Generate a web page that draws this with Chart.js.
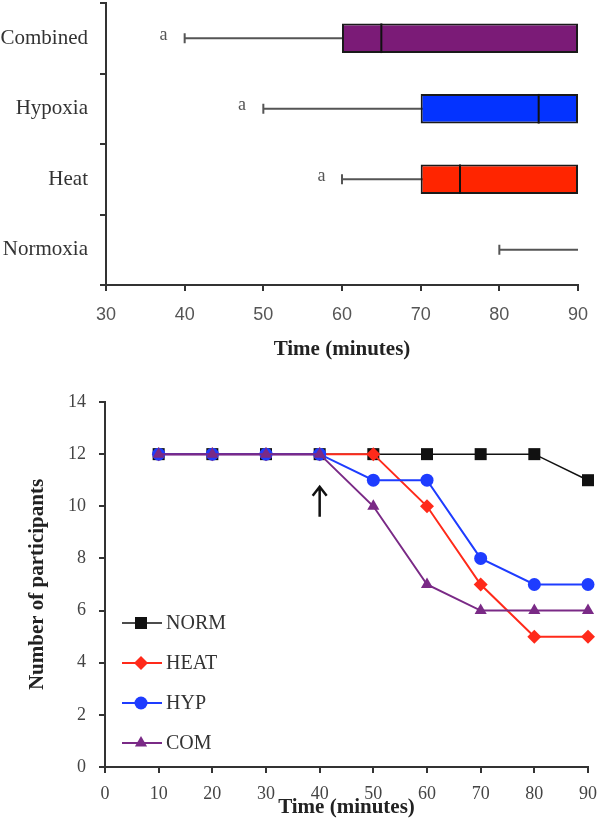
<!DOCTYPE html>
<html>
<head>
<meta charset="utf-8">
<script src="https://cdn.jsdelivr.net/npm/chart.js@4.4.1/dist/chart.umd.min.js"></script>
<style>
  html, body { margin: 0; padding: 0; background: #fff; }
  #wrap { position: relative; width: 600px; height: 820px; }
  #topBox { position: absolute; left: 0; top: 0; width: 600px; height: 380px; }
  #bottomBox { position: absolute; left: 0; top: 380px; width: 600px; height: 440px; }
</style>
</head>
<body>
<div id="wrap">
  <div id="topBox"><canvas id="timeBoxChart" width="600" height="380"></canvas></div>
  <div id="bottomBox"><canvas id="participantsChart" width="600" height="440"></canvas></div>
</div>
<script>
// top panel: time to exhaustion per condition
const conditions = ['Combined', 'Hypoxia', 'Heat', 'Normoxia'];
const whiskerMin = [40, 50, 60, 80];
const whiskerMax = [90, 90, 90, 90];
const lowerQuartile = [60, 70, 70, null];
const upperQuartile = [90, 90, 90, null];
const medians = [65, 85, 75, null];
const sigMarkX = [37.3, 47.3, 57.4, null];
const sigMarkText = ['a', 'a', 'a', ''];
const boxAxisTicks = [30, 40, 50, 60, 70, 80, 90];

// bottom panel: participants still running
const timePoints = [10, 20, 30, 40, 50, 60, 70, 80, 90];
const seriesNames = ['NORM', 'HEAT', 'HYP', 'COM'];
const normCounts = [12, 12, 12, 12, 12, 12, 12, 12, 11];
const heatCounts = [12, 12, 12, 12, 12, 10, 7, 5, 5];
const hypCounts = [12, 12, 12, 12, 11, 11, 8, 7, 7];
const comCounts = [12, 12, 12, 12, 10, 7, 6, 6, 6];
const countTicks = [0, 2, 4, 6, 8, 10, 12, 14];
const lineTimeTicks = [0, 10, 20, 30, 40, 50, 60, 70, 80, 90];
const arrowTime = 40;
const arrowSpan = [9.6, 10.75];

const boxColors = ['#7b1b77', '#0433ff', '#ff2500', '#ffffff'];
const lineColors = ['#111111', '#ff2a1a', '#1e3cff', '#7a2a86'];
const pointStyles = ['rect', 'rectRot', 'circle', 'triangle'];
const pointSizes = [8.5, 7, 6.5, 7];

const serif = "'Liberation Serif', 'Times New Roman', serif";

function axisStyle(extra) {
  return Object.assign({
    grid: { drawOnChartArea: false, drawTicks: true, tickLength: 6, color: '#333', lineWidth: 2 },
    border: { display: true, color: '#333', width: 2 }
  }, extra);
}

const boxWhiskerPlugin = {
  id: 'boxWhisker',
  beforeDatasetsDraw(chart) {
    const { ctx, scales: { x, y } } = chart;
    ctx.save();
    ctx.strokeStyle = '#555';
    ctx.lineWidth = 2;
    ctx.fillStyle = '#555';
    ctx.font = '18px ' + serif;
    ctx.textAlign = 'center';
    ctx.textBaseline = 'middle';
    conditions.forEach((c, i) => {
      const cy = y.getPixelForValue(i);
      const x0 = x.getPixelForValue(whiskerMin[i]);
      const x1 = x.getPixelForValue(whiskerMax[i]);
      ctx.beginPath();
      ctx.moveTo(x0, cy);
      ctx.lineTo(x1, cy);
      ctx.moveTo(x0, cy - 5);
      ctx.lineTo(x0, cy + 5);
      ctx.stroke();
      if (sigMarkX[i] !== null) {
        ctx.fillText(sigMarkText[i], x.getPixelForValue(sigMarkX[i]), cy - 3);
      }
    });
    ctx.restore();
  },
  afterDatasetsDraw(chart) {
    const { ctx, scales: { x } } = chart;
    const meta = chart.getDatasetMeta(0);
    ctx.save();
    ctx.strokeStyle = '#111';
    ctx.lineWidth = 2;
    medians.forEach((m, i) => {
      if (m === null) return;
      const bar = meta.data[i];
      const half = bar.height / 2;
      const mx = x.getPixelForValue(m);
      ctx.beginPath();
      ctx.moveTo(mx, bar.y - half);
      ctx.lineTo(mx, bar.y + half);
      ctx.stroke();
    });
    ctx.restore();
  }
};

function initializeBoxChart() {
  const ctx = document.getElementById('timeBoxChart');
  return new Chart(ctx, {
    type: 'bar',
    data: {
      labels: conditions,
      datasets: [{
        data: conditions.map((c, i) => lowerQuartile[i] === null ? null : [lowerQuartile[i], upperQuartile[i]]),
        backgroundColor: boxColors,
        borderColor: '#1a1a1a',
        borderWidth: 2,
        borderSkipped: false,
        barPercentage: 0.42,
        categoryPercentage: 1
      }]
    },
    options: {
      indexAxis: 'y',
      responsive: false,
      animation: false,
      layout: { padding: { top: 3, right: 22, left: 0, bottom: 0 } },
      plugins: { legend: { display: false }, tooltip: { enabled: false } },
      scales: {
        x: axisStyle({
          type: 'linear',
          min: boxAxisTicks[0],
          max: boxAxisTicks[boxAxisTicks.length - 1],
          ticks: { stepSize: 10, color: '#555', padding: 13, font: { family: "'Liberation Sans', sans-serif", size: 18 } },
          title: { display: true, text: 'Time (minutes)', color: '#222', padding: { top: 0, bottom: 18 }, font: { family: serif, size: 21, weight: 'bold' } },
          afterFit(scale) { scale.height = 95; scale.paddingRight = 0; }
        }),
        y: axisStyle({
          ticks: { color: '#333', padding: 12, font: { family: serif, size: 21 } },
          afterFit(scale) { scale.width = 106; scale.paddingTop = 0; scale.paddingBottom = 0; }
        })
      }
    },
    plugins: [boxWhiskerPlugin]
  });
}

function drawMarker(ctx, style, r, cx, cy) {
  ctx.beginPath();
  if (style === 'rect') {
    const s = r * Math.SQRT1_2;
    ctx.rect(cx - s, cy - s, 2 * s, 2 * s);
  } else if (style === 'rectRot') {
    ctx.moveTo(cx, cy - r);
    ctx.lineTo(cx + r, cy);
    ctx.lineTo(cx, cy + r);
    ctx.lineTo(cx - r, cy);
    ctx.closePath();
  } else if (style === 'circle') {
    ctx.arc(cx, cy, r, 0, Math.PI * 2);
  } else {
    ctx.moveTo(cx, cy - r);
    ctx.lineTo(cx + r * 0.87, cy + r * 0.5);
    ctx.lineTo(cx - r * 0.87, cy + r * 0.5);
    ctx.closePath();
  }
  ctx.fill();
}

const sideLegendPlugin = {
  id: 'sideLegend',
  afterDraw(chart) {
    const { ctx, chartArea } = chart;
    ctx.save();
    ctx.font = '20px ' + serif;
    ctx.textBaseline = 'middle';
    ctx.textAlign = 'left';
    chart.data.datasets.forEach((ds, i) => {
      const y = chartArea.top + 221 + i * 40;
      const x0 = chartArea.left + 17;
      ctx.strokeStyle = ds.borderColor;
      ctx.lineWidth = ds.borderWidth;
      ctx.beginPath();
      ctx.moveTo(x0, y);
      ctx.lineTo(x0 + 40, y);
      ctx.stroke();
      ctx.fillStyle = ds.pointBackgroundColor;
      drawMarker(ctx, ds.pointStyle, ds.pointRadius, x0 + 19, y);
      ctx.fillStyle = '#333';
      ctx.fillText(ds.label, x0 + 44, y + 1);
    });
    ctx.restore();
  }
};

const arrowPlugin = {
  id: 'arrowMark',
  afterDatasetsDraw(chart) {
    const { ctx, scales: { x, y } } = chart;
    const ax = x.getPixelForValue(arrowTime);
    const yBottom = y.getPixelForValue(arrowSpan[0]);
    const yTop = y.getPixelForValue(arrowSpan[1]);
    ctx.save();
    ctx.strokeStyle = '#111';
    ctx.lineWidth = 2.5;
    ctx.beginPath();
    ctx.moveTo(ax, yBottom);
    ctx.lineTo(ax, yTop);
    ctx.moveTo(ax - 7, yTop + 9);
    ctx.lineTo(ax, yTop);
    ctx.lineTo(ax + 7, yTop + 9);
    ctx.stroke();
    ctx.restore();
  }
};

function initializeParticipantsChart() {
  const ctx = document.getElementById('participantsChart');
  const seriesCounts = [normCounts, heatCounts, hypCounts, comCounts];
  const drawOrder = [4, 3, 2, 1];
  return new Chart(ctx, {
    type: 'line',
    data: {
      datasets: seriesNames.map((name, i) => ({
        label: name,
        data: timePoints.map((t, j) => ({ x: t, y: seriesCounts[i][j] })),
        borderColor: lineColors[i],
        backgroundColor: lineColors[i],
        pointBackgroundColor: lineColors[i],
        pointBorderColor: lineColors[i],
        pointBorderWidth: 0,
        pointStyle: pointStyles[i],
        pointRadius: pointSizes[i],
        borderWidth: i === 0 ? 1.5 : 2,
        tension: 0,
        fill: false,
        clip: false,
        order: drawOrder[i]
      }))
    },
    options: {
      responsive: false,
      animation: false,
      layout: { padding: { top: 22, right: 12, left: 0, bottom: 0 } },
      plugins: { legend: { display: false }, tooltip: { enabled: false } },
      scales: {
        x: axisStyle({
          type: 'linear',
          min: lineTimeTicks[0],
          max: lineTimeTicks[lineTimeTicks.length - 1],
          ticks: { stepSize: 10, color: '#444', padding: 10, font: { family: serif, size: 18 } },
          title: { display: true, text: 'Time (minutes)', color: '#222', padding: { top: 0, bottom: 0 }, font: { family: serif, size: 21, weight: 'bold' } },
          afterFit(scale) { scale.height = 53; scale.paddingRight = 0; }
        }),
        y: axisStyle({
          type: 'linear',
          min: countTicks[0],
          max: countTicks[countTicks.length - 1],
          ticks: { stepSize: 2, color: '#444', padding: 13, font: { family: serif, size: 18 } },
          title: { display: true, text: 'Number of participants', color: '#222', padding: { top: 25, bottom: 0 }, font: { family: serif, size: 21, weight: 'bold' } },
          afterFit(scale) { scale.width = 105; scale.paddingTop = 0; }
        })
      }
    },
    plugins: [arrowPlugin, sideLegendPlugin]
  });
}

window.addEventListener('load', function () {
  initializeBoxChart();
  initializeParticipantsChart();
});
</script>
</body>
</html>
